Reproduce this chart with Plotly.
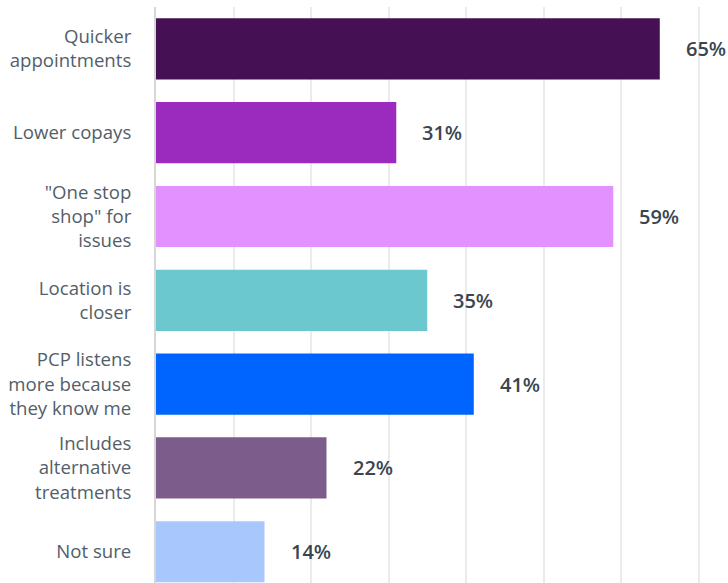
import plotly.graph_objects as go

categories = [
    "Quicker<br>appointments",
    "Lower copays",
    "\"One stop<br>shop\" for<br>issues",
    "Location is<br>closer",
    "PCP listens<br>more because<br>they know me",
    "Includes<br>alternative<br>treatments",
    "Not sure",
]
values = [65, 31, 59, 35, 41, 22, 14]
value_labels = ["65%", "31%", "59%", "35%", "41%", "22%", "14%"]
bar_colors = ["#461055", "#9b2bbf", "#e291fe", "#6cc8cf", "#0064fe", "#7c5c8b", "#a8c7fd"]

FONT = "Open Sans"

fig = go.Figure(
    go.Bar(
        x=values,
        y=categories,
        orientation="h",
        marker=dict(color=bar_colors, line=dict(width=0)),
        width=0.73,
        hoverinfo="skip",
    )
)

# value labels to the right of each bar
for cat, val, lab in zip(categories, values, value_labels):
    fig.add_annotation(
        x=val, y=cat, text=lab, showarrow=False,
        xanchor="left", yanchor="middle", xshift=24,
        font=dict(family=FONT, size=20, color="#3a4550", weight=600),
    )

fig.update_layout(
    width=728, height=583,
    margin=dict(l=156, r=0, t=7, b=0),
    paper_bgcolor="white", plot_bgcolor="white",
    showlegend=False,
    font=dict(family=FONT),
)
fig.update_xaxes(
    range=[0, 73.8], dtick=10, showticklabels=False,
    showgrid=True, gridcolor="#ebebeb", gridwidth=1.5,
    zeroline=False, showline=False, fixedrange=True,
)
fig.update_yaxes(
    type="category", range=[6.373, -0.5],
    showgrid=False, zeroline=False,
    showline=True, linecolor="#d6d6d6", linewidth=2,
    ticks="", ticklabelstandoff=19,
    tickfont=dict(family=FONT, size=18.6, color="#525e69"),
    fixedrange=True,
)

fig.write_html("out.html")
